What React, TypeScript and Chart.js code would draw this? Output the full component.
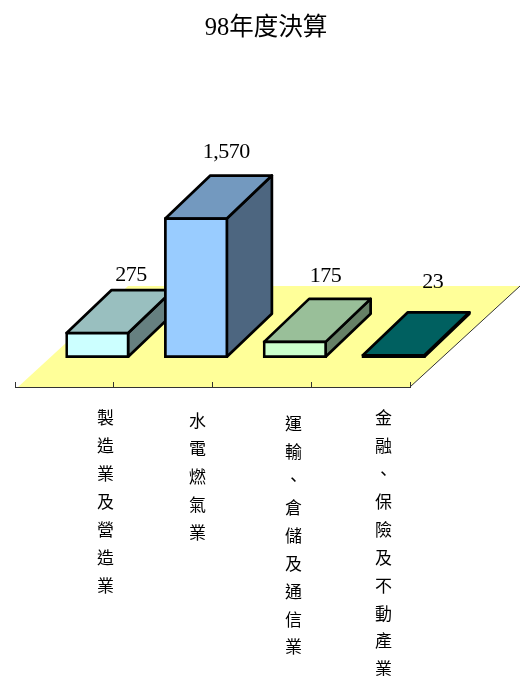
import React, { useEffect, useRef } from "react";
import { Chart, registerables } from "chart.js";

Chart.register(...registerables);

const titleText = "98年度決算";
const categories = ["製造業及營造業", "水電燃氣業", "運輸、倉儲及通信業", "金融、保險及不動產業"];
const values = [275, 1570, 175, 23];
const valueLabels = ["275", "1,570", "175", "23"];

const frontColors = ["#CCFFFF", "#99CCFF", "#CCFFCC", "#000000"];
const topColors = ["#99BFBF", "#7399BF", "#99BF99", "#006060"];
const sideColors = ["#668080", "#4D6680", "#668066", "#004040"];

const latinCjk = '"Liberation Serif", "Noto Sans CJK TC", serif';
const cjkFont = '"Noto Sans CJK TC", sans-serif';

// 3D projection
const planeDx = 33;
const planeDy = -30;
const barDepthX = 45;
const barDepthY = -43;
const floorDepthX = 110;
const floorDepthY = -101;
const lw = 2.7;
const inflate = 1;

// per-column label nudges (the reference's labels are not on the tick midpoints)
const tickNudgeX = [41, 34.25, 31.5, 22.75];
const tickNudgeY = [0, 3, 6, 0];
const valueOffsetX = [33.7, 30.2, 30.7, 39.2];
const valueOffsetY = [-57.5, -65.5, -65.5, -72.5];

const poly = (ctx: CanvasRenderingContext2D, pts: number[][], fill: string, stroke: boolean) => {
  ctx.beginPath();
  pts.forEach((p, i) => (i ? ctx.lineTo(p[0], p[1]) : ctx.moveTo(p[0], p[1])));
  ctx.closePath();
  ctx.fillStyle = fill;
  ctx.fill();
  if (stroke) {
    ctx.lineWidth = lw;
    ctx.strokeStyle = "#000";
    ctx.lineJoin = "round";
    ctx.stroke();
  }
};

const depthPlugin = {
  id: "depth",
  afterLayout(chart: any) {
    const t = chart.titleBlock;
    if (t) {
      t.left = 10;
      t.right = 522;
    }
    chart.scales.x.getLabelItems().forEach((it: any, i: number) => {
      it.options.translation[0] += tickNudgeX[i];
      it.options.translation[1] += tickNudgeY[i];
    });
  },
  beforeDraw(chart: any) {
    const { ctx, chartArea: a } = chart;
    const l = a.left + 3;
    const r = a.right;
    const b = a.bottom;
    ctx.save();
    poly(
      ctx,
      [
        [l, b],
        [r, b],
        [r + floorDepthX, b + floorDepthY],
        [l + floorDepthX, b + floorDepthY],
      ],
      "#FFFF99",
      false
    );
    ctx.beginPath();
    ctx.moveTo(r, b);
    ctx.lineTo(r + floorDepthX, b + floorDepthY);
    ctx.lineWidth = 1;
    ctx.strokeStyle = "#333";
    ctx.stroke();
    ctx.restore();
  },
  beforeDatasetsDraw(chart: any) {
    const { ctx } = chart;
    ctx.save();
    ctx.translate(planeDx, planeDy);
    chart.getDatasetMeta(0).data.forEach((el: any, i: number) => {
      const w = el.width;
      const L = el.x - w / 2 - inflate + lw / 2;
      const R = el.x + w / 2 + inflate - lw / 2;
      const B = el.base + inflate - lw / 2;
      const T = Math.min(el.y - inflate + lw / 2, B);
      poly(
        ctx,
        [
          [R, T],
          [R + barDepthX, T + barDepthY],
          [R + barDepthX, B + barDepthY],
          [R, B],
        ],
        sideColors[i],
        true
      );
      poly(
        ctx,
        [
          [L, T],
          [L + barDepthX, T + barDepthY],
          [R + barDepthX, T + barDepthY],
          [R, T],
        ],
        topColors[i],
        true
      );
    });
  },
  afterDatasetsDraw(chart: any) {
    const { ctx } = chart;
    ctx.font = `22px ${latinCjk}`;
    (ctx as any).letterSpacing = "-0.5px";
    ctx.fillStyle = "#000";
    ctx.textAlign = "center";
    ctx.textBaseline = "middle";
    chart.getDatasetMeta(0).data.forEach((el: any, i: number) => {
      ctx.fillText(valueLabels[i], el.x + valueOffsetX[i], el.y + valueOffsetY[i]);
    });
    (ctx as any).letterSpacing = "0px";
    ctx.restore();
  },
};

export default function App() {
  const ref = useRef<HTMLCanvasElement>(null);
  useEffect(() => {
    document.body.style.margin = "0";
    const chart = new Chart(ref.current!, {
      type: "bar",
      plugins: [depthPlugin],
      data: {
        labels: categories.map((c) => Array.from(c)) as any,
        datasets: [
          {
            data: values,
            backgroundColor: frontColors,
            borderColor: "#000",
            borderWidth: lw,
            borderSkipped: false,
            inflateAmount: inflate,
            categoryPercentage: 1,
            barPercentage: 0.63,
            clip: false as any,
          },
        ],
      },
      options: {
        responsive: false,
        animation: false,
        devicePixelRatio: 1,
        layout: { padding: { left: 15, right: 112, top: 0, bottom: 0 } },
        plugins: {
          legend: { display: false },
          tooltip: { enabled: false },
          title: {
            display: true,
            text: titleText,
            color: "#000",
            font: { family: latinCjk, size: 24.5, weight: "normal" },
            padding: { top: 13.6, bottom: 7 },
          },
        },
        scales: {
          y: { display: false, min: 0, max: 3812 },
          x: {
            afterFit(scale: any) {
              scale.height = 289;
            },
            border: { display: true, color: "#333", width: 1 },
            grid: {
              drawOnChartArea: false,
              drawTicks: true,
              tickLength: -5,
              tickColor: "#333",
              tickWidth: 1,
              offset: true,
            },
            ticks: {
              autoSkip: false,
              maxRotation: 0,
              minRotation: 0,
              color: "#000",
              padding: 22,
              font: { family: cjkFont, size: 17, lineHeight: 1.64 },
            },
          },
        },
      } as any,
    });
    return () => chart.destroy();
  }, []);
  return (
    <div style={{ width: 522, height: 676 }}>
      <canvas ref={ref} width={522} height={676} style={{ display: "block" }} />
    </div>
  );
}
